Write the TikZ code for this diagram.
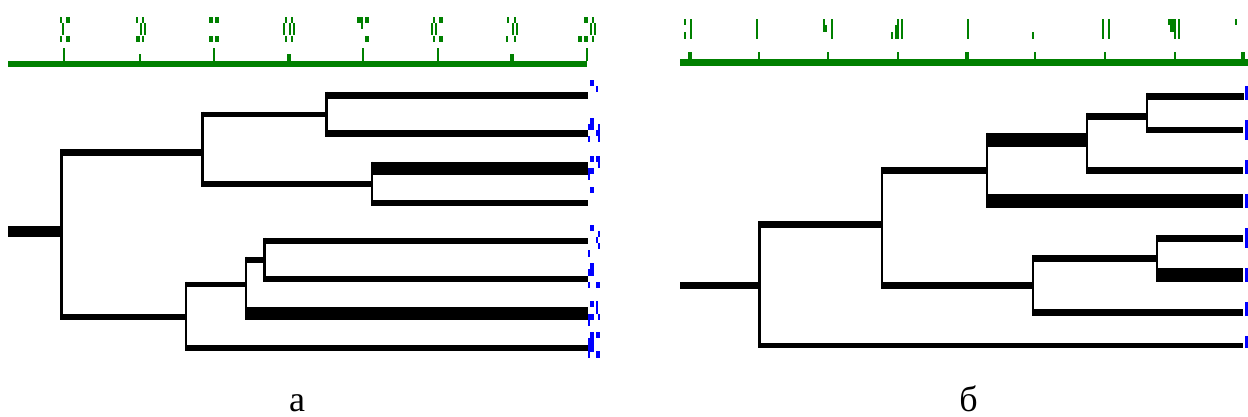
\documentclass[tikz,border=0pt]{standalone}
\usepackage{fontspec}
\setmainfont{Liberation Serif}
\definecolor{axgreen}{RGB}{0,128,0}
\definecolor{lblue}{RGB}{0,0,255}
\newcommand\pxr[4]{\fill (#1,#2) rectangle (#3,#4);}
\newcommand\vbr[4][1.25pt]{\draw[line width=#1] (#2 |- 0,#3) -- (#2 |- 0,#4);}
\begin{document}
\begin{tikzpicture}[x=0.5pt,y=-0.5pt,
  hb/.style={line width=#1*0.5pt},
  hb/.default=6.6,
  tb/.style={line width=13.4*0.5pt},
  capt/.style={font=\fontsize{18pt}{20pt}\selectfont,anchor=base,inner sep=0pt}]
\useasboundingbox[fill=white] (0,0) rectangle (1248,417);

% ================= Panel a : axis =================
\begin{scope}[axgreen]
\pxr{8}{61}{587.3}{66.7}
\foreach \x in {64.3,213.7,363.3,437.7,586.7} {\pxr{\x-1}{48.3}{\x+1}{61}}
\pxr{139}{54}{141}{61}
\pxr{287}{54}{291}{61}
\pxr{509.5}{54}{513.5}{61}
% garbled tick labels
\pxr{60}{16.7}{62}{22.7}\pxr{66}{16.7}{70}{22.7}\pxr{62}{22.7}{64}{35}\pxr{60}{36}{62}{41.7}\pxr{66}{36}{70}{41.7}
\pxr{136}{17}{138}{23}\pxr{142}{17}{144}{23}\pxr{140}{23}{142}{35}\pxr{144}{23}{146}{35}\pxr{136}{36}{140}{42}\pxr{142}{36}{144}{42}
\pxr{209}{17}{213}{23}\pxr{215}{17}{219}{23}\pxr{209}{36}{213}{42}\pxr{215}{36}{219}{42}
\pxr{284.7}{17}{286.7}{23}\pxr{290.7}{17}{292.7}{23}\pxr{282.7}{23}{284.7}{35}\pxr{288.7}{23}{290.7}{35}\pxr{292.7}{23}{294.7}{35}\pxr{284.7}{36}{286.7}{42}\pxr{290.7}{36}{292.7}{42}
\pxr{357}{17}{363}{23}\pxr{365}{17}{369}{23}\pxr{361}{23}{363}{29}\pxr{365}{36}{369}{42}
\pxr{433}{17}{435}{23}\pxr{439}{17}{443}{23}\pxr{431}{23}{433}{35}\pxr{435}{23}{437}{35}\pxr{433}{36}{435}{42}\pxr{439}{36}{443}{42}
\pxr{506.7}{17}{508.7}{23}\pxr{513.7}{17}{515.7}{23}\pxr{511.7}{23}{513.7}{35}\pxr{515.7}{23}{517.7}{35}\pxr{505.7}{36}{507.7}{42}\pxr{513.7}{36}{515.7}{42}
\pxr{584.3}{17}{588.3}{23}\pxr{591.7}{17}{593.7}{23}\pxr{589.7}{23}{591.7}{35}\pxr{593.7}{23}{595.7}{35}\pxr{578.3}{36}{582.3}{42}\pxr{584.3}{36}{588.3}{42}\pxr{591.7}{36}{593.7}{42}
\end{scope}

% ================= Panel a : tree =================
\coordinate (aR) at (8,231.5);
\coordinate (aA) at (61.3,231.5);
\coordinate (aB) at (202.3,152.7);
\coordinate (aC) at (326.7,114.4);
\coordinate (aD) at (372.2,183.9);
\coordinate (aE) at (186,317);
\coordinate (aF) at (246,284.5);
\coordinate (aG) at (264.7,259.7);
\coordinate (al1) at (588,95.3);
\coordinate (al2) at (588,133.3);
\coordinate (al3) at (588,168.4);
\coordinate (al4) at (588,202.9);
\coordinate (al5) at (588,241);
\coordinate (al6) at (588,279);
\coordinate (al7) at (588,313.5);
\coordinate (al8) at (588,348);

\draw[hb=11.6] (aR) -- (aA);
\draw[hb=6.7] (aA |- aB) -- (aB);
\draw[hb=6] (aA |- aE) -- (aE);
\draw[hb=5.7] (aB |- aC) -- (aC);
\draw[hb=5.7] (aB |- aD) -- (aD);
\draw[hb=7.3] (aC |- al1) -- (al1);
\draw[hb=6.7] (aC |- al2) -- (al2);
\draw[tb] (aD |- al3) -- (al3);
\draw[hb=5.7] (aD |- al4) -- (al4);
\draw[hb=5.6] (aE |- aF) -- (aF);
\draw[hb=6] (aE |- al8) -- (al8);
\draw[hb=6] (aF |- aG) -- (aG);
\draw[tb] (aF |- al7) -- (al7);
\draw[hb=6] (aG |- al5) -- (al5);
\draw[hb=6] (aG |- al6) -- (al6);

\vbr{aA}{149.3}{319.7}
\vbr[1.65pt]{aB}{111.7}{186.7}
\vbr[1.65pt]{aC}{91.7}{136.7}
\vbr{aD}{161.7}{205.7}
\vbr{aE}{281.7}{351}
\vbr{aF}{256.7}{320}
\vbr[1.65pt]{aG}{237.7}{281.7}

% blue leaf label fragments (a)
\begin{scope}[lblue]
\pxr{590}{80}{594}{86}\pxr{596}{86}{598}{92}
\pxr{590}{118}{594}{124}\pxr{588}{124}{594}{130}\pxr{598}{124}{600}{142}\pxr{596}{130}{598}{136}\pxr{588}{136}{590}{142}
\pxr{590}{156}{594}{162}\pxr{596}{156}{600}{162}\pxr{598}{162}{600}{168}\pxr{588}{168}{594}{174}\pxr{588}{174}{590}{180}\pxr{590}{187}{594}{193}
\pxr{590}{225}{594}{231}\pxr{598}{231}{600}{237}\pxr{596}{237}{598}{243}\pxr{598}{243}{600}{249}\pxr{588}{250}{590}{257}
\pxr{590}{263}{594}{269}\pxr{588}{269}{594}{276}\pxr{588}{282}{590}{288}\pxr{596}{282}{600}{288}
\pxr{590}{301}{594}{307}\pxr{596}{301}{598}{314}\pxr{588}{314}{594}{320}\pxr{598}{314}{600}{320}\pxr{588}{320}{590}{326}
\pxr{590}{332}{594}{338}\pxr{596}{332}{600}{338}\pxr{588}{338}{594}{352}\pxr{596}{351}{600}{358}\pxr{588}{352}{590}{358}
\end{scope}

% ================= Panel b : axis =================
\begin{scope}[axgreen]
\pxr{680}{59}{1248}{65.7}
\foreach \x in {759,828,898,1035,1105,1175} {\pxr{\x-1}{52}{\x+1}{59}}
\foreach \x in {690,967,1243} {\pxr{\x-2}{52}{\x+2}{59}}
% garbled tick labels
\pxr{684}{19}{686}{25}\pxr{684}{32}{686}{39}\pxr{690}{19}{692}{39}
\pxr{756}{19}{758}{39}
\pxr{823}{19}{825}{25}\pxr{823}{25}{827}{32}\pxr{831}{19}{833}{39}
\pxr{891}{32}{893}{39}\pxr{895}{25}{897}{39}\pxr{897}{19}{899}{39}\pxr{901}{19}{903}{39}
\pxr{967}{19}{969}{39}
\pxr{1032}{32}{1034}{39}
\pxr{1102}{19}{1104}{39}\pxr{1108}{19}{1110}{39}
\pxr{1168}{19}{1170}{25}\pxr{1170}{19}{1174}{32}\pxr{1174}{19}{1176}{39}\pxr{1178}{19}{1180}{39}
\pxr{1234.7}{19}{1236.7}{25}
\end{scope}

% ================= Panel b : tree =================
\coordinate (bR) at (680,285.3);
\coordinate (bP) at (759.3,285.3);
\coordinate (bQ) at (882.2,224.3);
\coordinate (bS) at (987.2,170.7);
\coordinate (bT) at (1087.2,139.7);
\coordinate (bU) at (1147.2,116.3);
\coordinate (bV) at (1033.2,285.3);
\coordinate (bW) at (1157.2,258.3);
\coordinate (bl1) at (1244,96.3);
\coordinate (bl2) at (1243,130);
\coordinate (bl3) at (1243,170.3);
\coordinate (bl4) at (1243,200.8);
\coordinate (bl5) at (1243,238.3);
\coordinate (bl6) at (1243,275);
\coordinate (bl7) at (1243,312.5);
\coordinate (bl8) at (1243,345.5);

\draw[hb=7.3] (bR) -- (bP);
\draw[hb=6.7] (bP |- bQ) -- (bQ);
\draw[hb=5.6] (bP |- bl8) -- (bl8);
\draw[hb=6.7] (bQ |- bS) -- (bS);
\draw[hb=7.3] (bQ |- bV) -- (bV);
\draw[hb=14] (bS |- bT) -- (bT);
\draw[hb=13.7] (bS |- bl4) -- (bl4);
\draw[hb=7.3] (bT |- bU) -- (bU);
\draw[hb=7.3] (bT |- bl3) -- (bl3);
\draw[hb=7.3] (bU |- bl1) -- (bl1);
\draw[hb=6.7] (bU |- bl2) -- (bl2);
\draw[hb=6.7] (bV |- bW) -- (bW);
\draw[hb=6.4] (bV |- bl7) -- (bl7);
\draw[hb=6.7] (bW |- bl5) -- (bl5);
\draw[tb] (bW |- bl6) -- (bl6);

\vbr{bP}{221}{348.3}
\vbr{bQ}{167.3}{289}
\vbr{bS}{132.7}{207.7}
\vbr{bT}{112.7}{174}
\vbr{bU}{92.7}{133.3}
\vbr{bV}{255}{315.7}
\vbr{bW}{235}{281.7}

% blue leaf label fragments (b)
\begin{scope}[lblue]
\pxr{1245}{86}{1248}{100}
\pxr{1245}{120}{1248}{140}
\pxr{1245}{160}{1248}{174}
\pxr{1245}{194}{1248}{207.7}
\pxr{1245}{227.7}{1248}{247.7}
\pxr{1245}{268.3}{1248}{281.7}
\pxr{1245}{301.7}{1248}{315.7}
\pxr{1245}{336}{1248}{348.3}
\end{scope}

% ================= captions =================
\node[capt] (capa) at (297,411) {а};
\node[capt] (capb) at (968.5,411) {б};
\end{tikzpicture}
\end{document}
